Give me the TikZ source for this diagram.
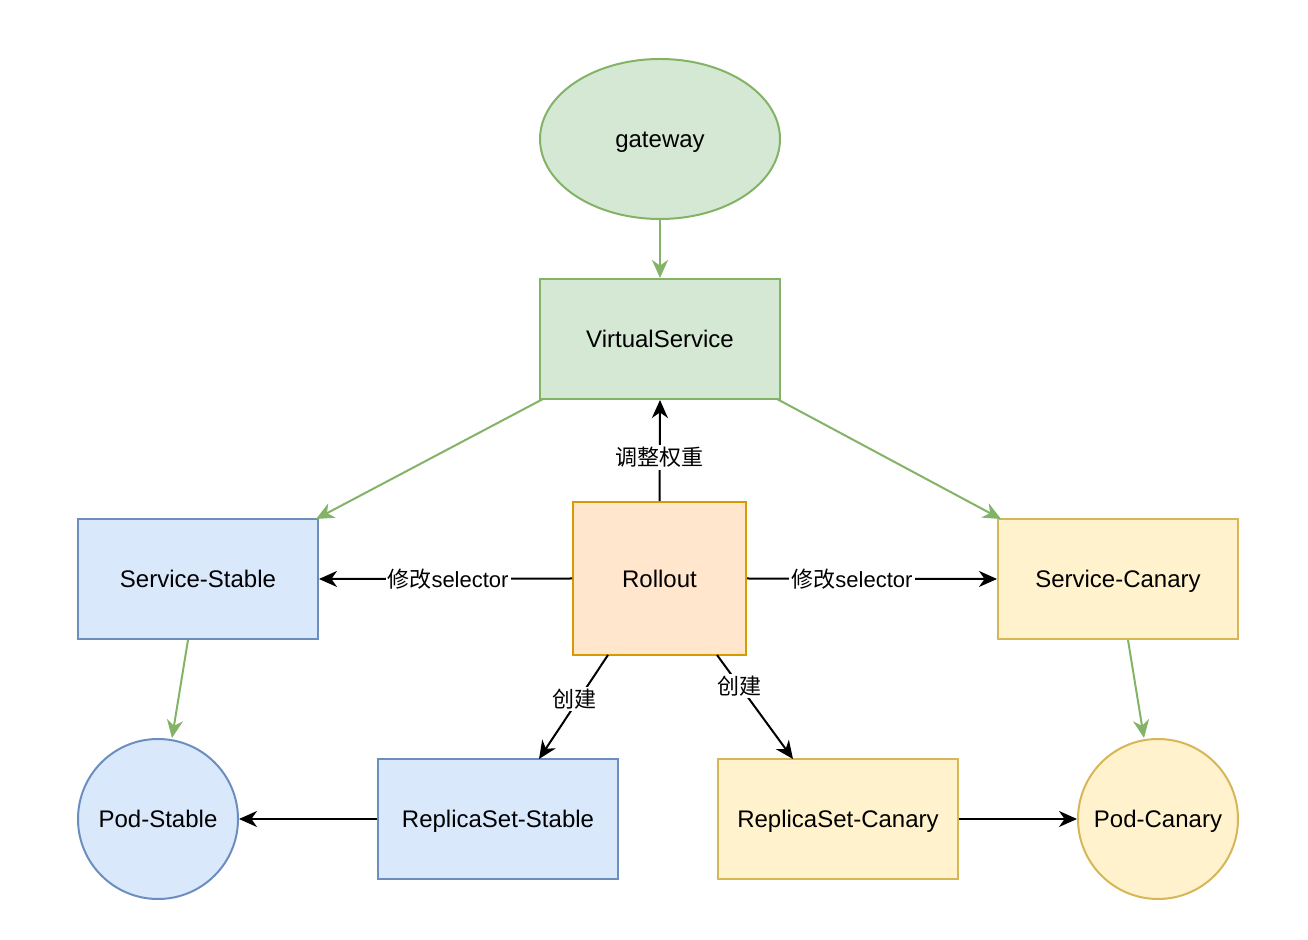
\documentclass[tikz,border=0pt]{standalone}
\usepackage{fontspec}
\setmainfont{Liberation Sans}
\newfontfamily\cjk{Noto Sans CJK SC}
\usetikzlibrary{arrows.meta,shapes.geometric}
\definecolor{gfill}{HTML}{D5E8D4}
\definecolor{gdraw}{HTML}{82B366}
\definecolor{bfill}{HTML}{DAE8FC}
\definecolor{bdraw}{HTML}{6C8EBF}
\definecolor{yfill}{HTML}{FFF2CC}
\definecolor{ydraw}{HTML}{D6B656}
\definecolor{ofill}{HTML}{FFE6CC}
\definecolor{odraw}{HTML}{D79B00}
\tikzset{
  shapetext/.style={font=\fontsize{12}{14}\selectfont, text height=9.6pt, text depth=1pt},
  box/.style={draw, line width=1pt, minimum width=120pt, minimum height=60pt, inner sep=0pt, shapetext},
  greenbox/.style={box, fill=gfill, draw=gdraw},
  bluebox/.style={box, fill=bfill, draw=bdraw},
  yellowbox/.style={box, fill=yfill, draw=ydraw},
  orangebox/.style={box, fill=ofill, draw=odraw, minimum width=86.5pt, minimum height=76.5pt},
  circ/.style={circle, draw, line width=1pt, minimum size=80pt, inner sep=0pt, shapetext},
  garrow/.style={draw=gdraw, line width=1pt, -{Stealth[length=9pt,width=8pt,inset=2.8pt]}},
  karrow/.style={draw=black, line width=1pt, -{Stealth[length=9pt,width=8pt,inset=2.8pt]}},
  lbl/.style={fill=white, inner sep=1pt, font=\fontsize{11}{13}\selectfont},
}
\begin{document}
\begin{tikzpicture}[x=0.5pt,y=-0.5pt]
\useasboundingbox (0,0) rectangle (1308,940);
\node[ellipse, draw=gdraw, fill=gfill, line width=1pt, minimum width=120pt, minimum height=80pt, inner sep=0pt, shapetext] (gw) at (660,139) {gateway};
\node[greenbox] (vs) at (660,339) {VirtualService};
\node[orangebox] (ro) at (659.5,578.5) {Rollout};
\node[bluebox] (ss) at (198,579) {Service-Stable};
\node[yellowbox] (sc) at (1118,579) {Service-Canary};
\node[circ, fill=bfill, draw=bdraw] (ps) at (158,819) {Pod-Stable};
\node[bluebox] (rss) at (498,819) {ReplicaSet-Stable};
\node[yellowbox] (rsc) at (838,819) {ReplicaSet-Canary};
\node[circ, fill=yfill, draw=ydraw] (pc) at (1158,819) {Pod-Canary};

\coordinate (vsbl) at (543,399);
\coordinate (vsbr) at (777,399);
\coordinate (sstop) at (316,519);
\coordinate (sctop) at (1001,519);
\draw[garrow] (gw.south) -- (vs.north);
\draw[garrow] (vsbl) -- (sstop);
\draw[garrow] (vsbr) -- (sctop);
\draw[garrow] (ss.south -| 188,0) -- (ps.north -| 172,0);
\draw[garrow] (sc.south -| 1128,0) -- (pc.north -| 1144,0);

\draw[karrow] (ro.north) -- node[lbl, pos=0.43] {\cjk 调整权重} (vs.south);
\draw[karrow] (ro.west) -- node[lbl, pos=0.49] {\cjk 修改\rmfamily selector} (ss.east);
\draw[karrow] (ro.east) -- node[lbl, pos=0.42] {\cjk 修改\rmfamily selector} (sc.west);
\coordinate (robl) at (608,655);
\coordinate (robr) at (717,655);
\coordinate (rsstop) at (539,759);
\coordinate (rsctop) at (793,759);
\draw[karrow] (robl) -- node[lbl, pos=0.42, xshift=-2.5pt] {\cjk 创建} (rsstop);
\draw[karrow] (robr) -- node[lbl, pos=0.3] {\cjk 创建} (rsctop);
\draw[karrow] (rss.west) -- (ps.east);
\draw[karrow] (rsc.east) -- (pc.west);
\end{tikzpicture}
\end{document}
